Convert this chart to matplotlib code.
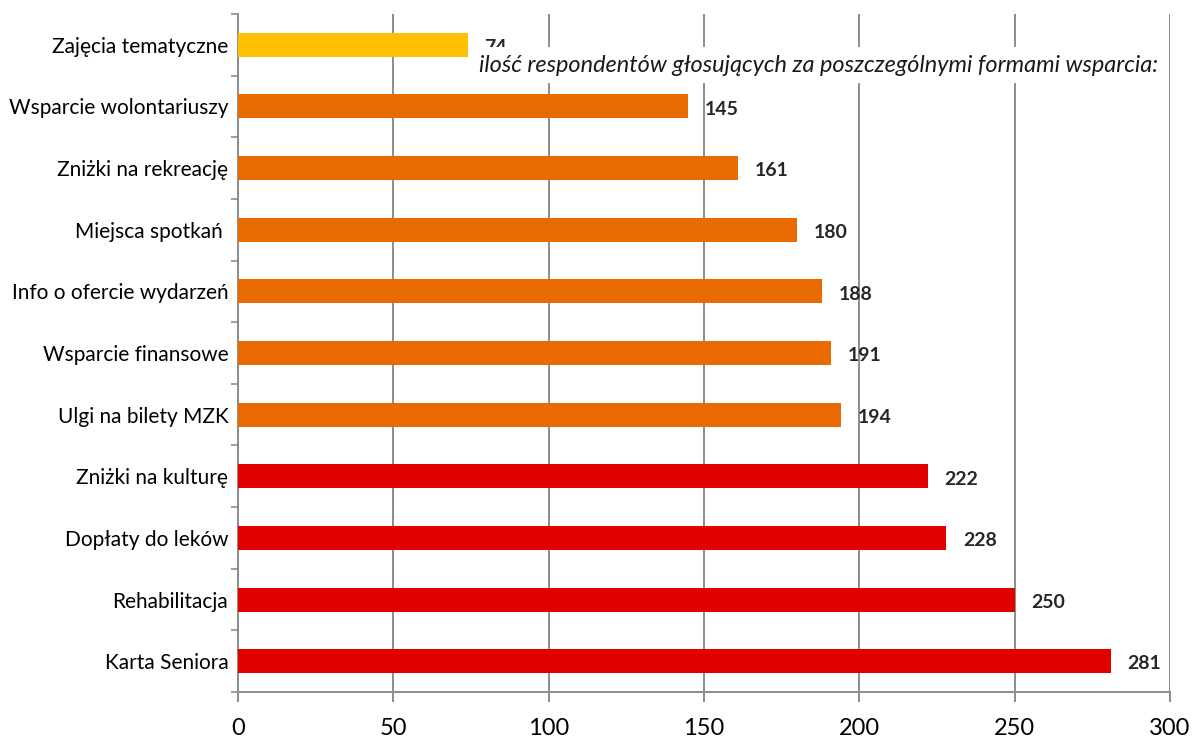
"""Bar chart: votes for forms of support."""

import matplotlib
matplotlib.use("Agg")
import matplotlib.pyplot as plt

categories = [
    "Karta Seniora",
    "Rehabilitacja",
    "Dopłaty do leków",
    "Zniżki na kulturę",
    "Ulgi na bilety MZK",
    "Wsparcie finansowe",
    "Info o ofercie wydarzeń",
    "Miejsca spotkań ",
    "Zniżki na rekreację",
    "Wsparcie wolontariuszy",
    "Zajęcia tematyczne",
]
votes = [281, 250, 228, 222, 194, 191, 188, 180, 161, 145, 74]
bar_colors = ["#E00000"] * 4 + ["#E86A00"] * 6 + ["#FFC000"]
x_ticks = [0, 50, 100, 150, 200, 250, 300]
title = "ilość respondentów głosujących za poszczególnymi formami wsparcia:"

plt.rcParams["font.family"] = ["Lato", "DejaVu Sans"]

fig = plt.figure(figsize=(11.92, 7.42), dpi=100)
ax = fig.add_axes([238 / 1192, 1 - 692 / 742, (1170 - 238) / 1192, (692 - 14) / 742])

grid_color = "#8C8C8C"
ypos = list(range(len(categories)))
ax.barh(ypos, votes, height=0.39, color=bar_colors, zorder=3)

for y, v in zip(ypos, votes):
    ax.annotate(str(v), (v, y), xytext=(12, -2), textcoords="offset points",
                ha="left", va="center", fontsize=14, fontweight="bold",
                color="#262626", zorder=4)

ax.set_xlim(0, 300)
ax.set_ylim(-0.5, len(categories) - 0.5)
ax.set_xticks(x_ticks)
ax.set_xticklabels([str(t) for t in x_ticks], fontsize=17)
ax.xaxis.grid(True, color=grid_color, linewidth=1.4, zorder=0)
ax.tick_params(axis="x", length=7, width=1.4, color=grid_color, pad=12)

ax.set_yticks(ypos)
ax.set_yticklabels(categories, fontsize=15)
ax.set_yticks([i - 0.5 for i in range(len(categories) + 1)], minor=True)
ax.tick_params(axis="y", which="major", length=0, pad=7)
ax.tick_params(axis="y", which="minor", length=5, width=1.2, color=grid_color)

for side in ("top", "right"):
    ax.spines[side].set_visible(False)
for side in ("left", "bottom"):
    ax.spines[side].set_color(grid_color)
    ax.spines[side].set_linewidth(1.4)

fig.text(1158 / 1192, 1 - 65 / 742, title, ha="right", va="center",
         fontsize=16.9, style="italic", color="#1a1a1a", zorder=10,
         bbox=dict(facecolor="white", edgecolor="none", pad=5))

fig.savefig("out.png", dpi=100)
